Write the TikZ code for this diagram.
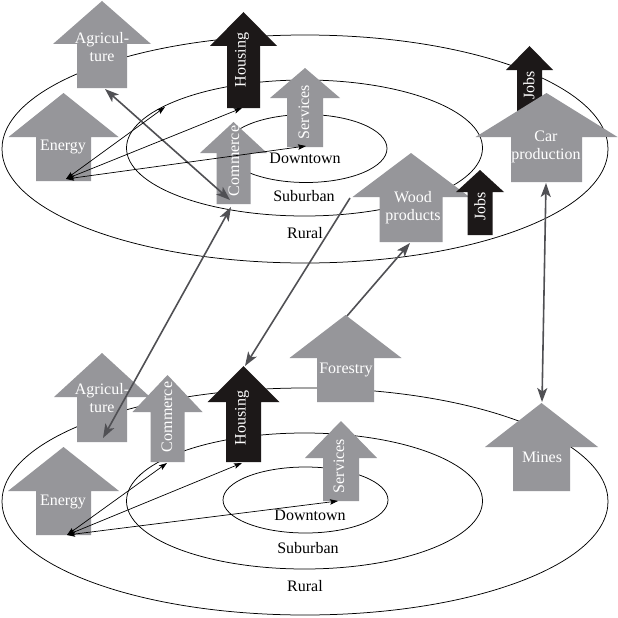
\documentclass[tikz,border=0pt]{standalone}
\usepackage{fontspec}
\setmainfont{Liberation Serif}
\usetikzlibrary{arrows.meta}
\definecolor{agray}{RGB}{150,150,154}
\definecolor{ablack}{RGB}{28,24,24}
\definecolor{cgray}{RGB}{80,80,84}
% #1 cx, #2 apex y, #3 head base y, #4 head half width, #5 shaft half width, #6 bottom y, #7 style
\newcommand\blockarr[7]{%
  \path[#7] (#1,#2) -- ({#1+#4},#3) -- ({#1+#5},#3) -- ({#1+#5},#6) -- ({#1-#5},#6) -- ({#1-#5},#3) -- ({#1-#4},#3) -- cycle;}
\begin{document}
\begin{tikzpicture}[x=1pt,y=-1pt,
  font=\fontsize{16}{18}\selectfont,
  ring/.style={draw=black, line width=0.75pt},
  gshape/.style={fill=agray},
  bshape/.style={fill=ablack},
  wlab/.style={text=white, align=center, inner sep=0pt},
  vlab/.style={wlab, rotate=90},
  zlab/.style={text=black, inner sep=0pt},
  biglink/.style={draw=cgray, line width=1.6pt, arrows={-Stealth[length=14pt,width=10pt,inset=3.5pt]}},
  bigboth/.style={biglink, arrows={Stealth[length=14pt,width=10pt,inset=3.5pt]-Stealth[length=14pt,width=10pt,inset=3.5pt]}},
  smalllink/.style={draw=black, line width=0.7pt, arrows={Stealth[length=8pt,width=5.5pt,inset=1.5pt]-Stealth[length=8pt,width=5.5pt,inset=1.5pt]}}]
\useasboundingbox (0,0) rectangle (618,618);
\fill[white] (0,0) rectangle (618,618);

% ---------- top rings ----------
\draw[ring] (305,149) ellipse [x radius=303, y radius=114];
\draw[ring] (304.5,148) ellipse [x radius=178, y radius=68];
\draw[ring] (306,148.5) ellipse [x radius=81, y radius=34];
\node[zlab] (dtT) at (305,158) {Downtown};
\node[zlab] (suT) at (304,196) {Suburban};
\node[zlab] (ruT) at (305,233) {Rural};

% ---------- bottom rings ----------
\draw[ring] (305,501.5) ellipse [x radius=303, y radius=113.5];
\draw[ring] (304.5,501) ellipse [x radius=178, y radius=68];
\draw[ring] (305.5,500) ellipse [x radius=82.5, y radius=33];
\node[zlab] (dtB) at (310,515) {Downtown};
\node[zlab] (suB) at (308,548) {Suburban};
\node[zlab] (ruB) at (305,586) {Rural};

% ---------- top block arrows ----------
\blockarr{102}{1}{44}{49}{25}{88}{gshape}
\node[wlab] (agriT) at (102,47) {Agricul-\\ture};
\blockarr{63.5}{93}{137}{55}{27.5}{181}{gshape}
\node[wlab] (enerT) at (63,147) {Energy};
\blockarr{243.5}{12}{46}{33.5}{16.5}{108}{bshape}
\node[vlab] (housT) at (242,60) {Housing};
\blockarr{305}{68}{98}{35}{18}{147}{gshape}
\node[vlab] (servT) at (304,112) {Services};
\blockarr{233.5}{122}{153}{33.5}{17}{204}{gshape}
\node[vlab] (commT) at (234,161) {Commerce};
\blockarr{529.5}{46}{70}{23.5}{12.5}{113}{bshape}
\node[vlab] (jobsT) at (529,85) {Jobs};
\blockarr{546.5}{93}{137}{71}{35.5}{182}{gshape}
\node[wlab] (carT) at (546,147) {Car\\production};
\blockarr{411}{153}{197}{58.5}{31.5}{242}{gshape}
\node[wlab] (woodT) at (413,208) {Wood\\products};
\blockarr{480}{170}{192}{24}{12.5}{235}{bshape}
\node[vlab] (jobsM) at (480,206) {Jobs};

% ---------- bottom block arrows ----------
\blockarr{345.5}{315}{358}{56}{28.5}{402}{gshape}
\node[wlab] (forB) at (346,370) {Forestry};
\blockarr{541.5}{403}{447}{56.5}{28.5}{491}{gshape}
\node[wlab] (minB) at (542,457) {Mines};
\blockarr{102}{353}{397}{48}{25}{442}{gshape}
\node[wlab] (agriB) at (102,398) {Agricul-\\ture};
\blockarr{167.5}{375}{412}{35}{17}{462}{gshape}
\node[vlab] (commB) at (167,417) {Commerce};
\blockarr{243.5}{366}{402}{36}{17.5}{462}{bshape}
\node[vlab] (housB) at (242,418) {Housing};
\blockarr{341}{421}{458}{36}{18}{501}{gshape}
\node[vlab] (servB) at (339,466) {Services};
\blockarr{63.5}{447}{491}{55.5}{27.5}{535}{gshape}
\node[wlab] (enerB) at (63,502) {Energy};

% ---------- connector end points ----------
\coordinate (agTend) at (105,89);
\coordinate (coTa) at (230,200);
\coordinate (coTb) at (231,207);
\coordinate (enTend) at (66,179);
\coordinate (subPt) at (165,107);
\coordinate (hoTend) at (242,108);
\coordinate (seTend) at (306,146);
\coordinate (woCorner) at (350,198);
\coordinate (woBot) at (410,243);
\coordinate (caBot) at (546,183);
\coordinate (agBend) at (103,438);
\coordinate (hoApex) at (245,366);
\coordinate (foApex) at (347,316);
\coordinate (miApex) at (542,402);
\coordinate (enBend) at (67,535);
\coordinate (coBend) at (167,463);
\coordinate (hoBend) at (242,463);
\coordinate (seBend) at (338,501);

% ---------- connectors ----------
\draw[bigboth] (agTend) -- (coTa);
\draw[bigboth] (coTb) -- (agBend);
\draw[biglink] (woCorner) -- (hoApex);
\draw[biglink] (foApex) -- (woBot);
\draw[bigboth] (caBot) -- (miApex);

\draw[smalllink] (enTend) -- (subPt);
\draw[smalllink] (enTend) -- (hoTend);
\draw[smalllink] (enTend) -- (seTend);

\draw[smalllink] (enBend) -- (coBend);
\draw[smalllink] (enBend) -- (hoBend);
\draw[smalllink] (enBend) -- (seBend);
\end{tikzpicture}
\end{document}
